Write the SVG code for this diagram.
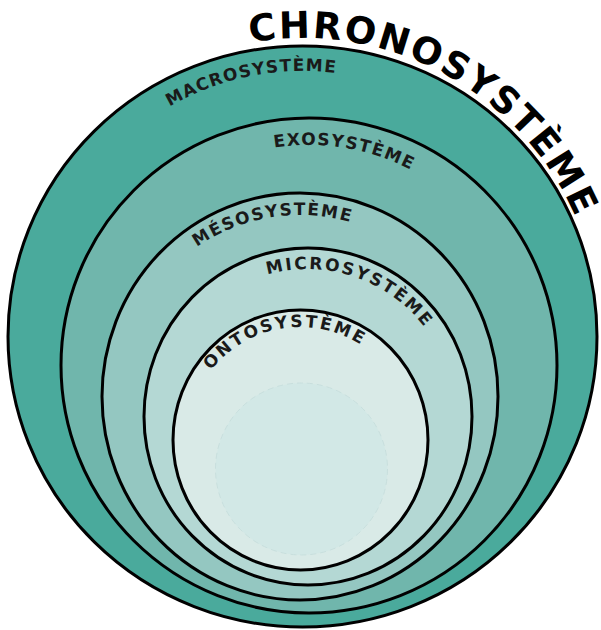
<svg xmlns="http://www.w3.org/2000/svg" xmlns:xlink="http://www.w3.org/1999/xlink" width="601" height="630" viewBox="0 0 601 630">
  <defs>
    <style>
      .ring { stroke: #000; stroke-width: 3; }
      .lbl { font-family: "DejaVu Sans", "Open Sans", sans-serif; font-weight: 700; font-size: 17px; fill: #1a1a1a; }
      .title { font-family: "DejaVu Sans", "Open Sans", sans-serif; font-weight: 700; font-size: 37px; fill: #000; }
    </style>
    <path id="pChrono" d="M 250.3 42.5 A 298 298 0 0 1 576.7 219.6" fill="none"/>
    <path id="pMacro" d="M 169.5 106.5 A 265 265 0 0 1 341.2 73.9" fill="none"/>
    <path id="pExo" d="M 274.4 147.7 A 221 221 0 0 1 412.8 170.9" fill="none"/>
    <path id="pMeso" d="M 196.9 247 A 182 182 0 0 1 354.7 223.4" fill="none"/>
    <path id="pMicro" d="M 267.5 274.4 A 148 148 0 0 1 426.7 330" fill="none"/>
    <path id="pOnto" d="M 211 370.4 A 113 113 0 0 1 364.8 347.4" fill="none"/>
  </defs>
  <rect width="601" height="630" fill="#ffffff"/>

  <g id="macrosysteme">
    <ellipse class="ring" cx="302.5" cy="336.5" rx="294.5" ry="290.5" fill="#4aaa9c"/>
  </g>
  <g id="exosysteme">
    <ellipse class="ring" cx="309" cy="365.5" rx="248" ry="247.5" fill="#70b6ac"/>
  </g>
  <g id="mesosysteme">
    <ellipse class="ring" cx="300" cy="396.5" rx="198" ry="203.5" fill="#94c7c1"/>
  </g>
  <g id="microsysteme">
    <ellipse class="ring" cx="308" cy="416.5" rx="164" ry="168.5" fill="#b4d8d4"/>
  </g>
  <g id="ontosysteme">
    <ellipse class="ring" cx="300.5" cy="440" rx="127.5" ry="130" fill="#d9eae7"/>
    <circle cx="301.5" cy="469" r="86" fill="#d2e8e6" stroke="#c4dcda" stroke-width="0.8" stroke-dasharray="6 4"/>
  </g>

  <g id="labels">
    <text class="title"><textPath xlink:href="#pChrono" href="#pChrono" textLength="398" lengthAdjust="spacing">CHRONOSYSTÈME</textPath></text>
    <text class="lbl"><textPath xlink:href="#pMacro" href="#pMacro" textLength="172" lengthAdjust="spacing">MACROSYSTÈME</textPath></text>
    <text class="lbl"><textPath xlink:href="#pExo" href="#pExo" textLength="140" lengthAdjust="spacing">EXOSYSTÈME</textPath></text>
    <text class="lbl"><textPath xlink:href="#pMeso" href="#pMeso" textLength="160" lengthAdjust="spacing">MÉSOSYSTÈME</textPath></text>
    <text class="lbl"><textPath xlink:href="#pMicro" href="#pMicro" textLength="175" lengthAdjust="spacing">MICROSYSTÈME</textPath></text>
    <text class="lbl"><textPath xlink:href="#pOnto" href="#pOnto" textLength="166" lengthAdjust="spacing">ONTOSYSTÈME</textPath></text>
  </g>
  <g id="connectors"/>
</svg>
